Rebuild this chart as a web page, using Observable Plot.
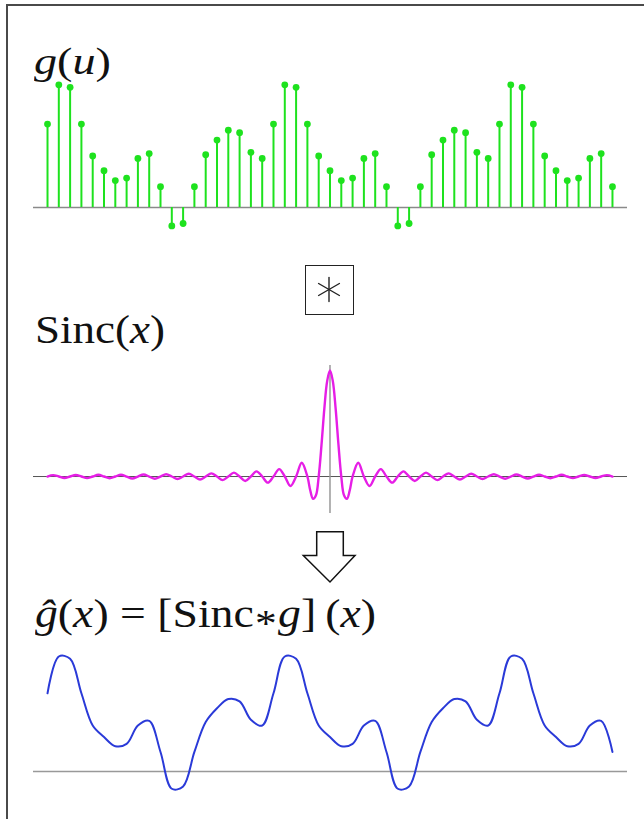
<!DOCTYPE html>
<html>
<head>
<meta charset="utf-8">
<script src="https://cdn.jsdelivr.net/npm/d3@7"></script>
<script src="https://cdn.jsdelivr.net/npm/@observablehq/plot@0.6"></script>
<style>
  body { margin: 0; background: #fff; }
  #wrap { position: relative; width: 644px; height: 819px; overflow: hidden; background: #fff; }
  .frame { position: absolute; left: 6px; top: 4px; width: 800px; height: 1000px;
           border-top: 2px solid #4a4a4a; border-left: 2px solid #4a4a4a; }
  .lbl { position: absolute; font-family: "Liberation Serif", serif; line-height: 1; white-space: nowrap;
         color: #111; transform-origin: 0 0; }
  .lbl i { font-style: italic; }
  .ast { position: relative; top: 0.24em; font-size: 0.95em; margin: 0 0.03em; }
  .box { position: absolute; left: 305px; top: 265px; width: 49px; height: 50px; box-sizing: border-box;
         border: 1.5px solid #222; }
  .arrow { position: absolute; left: 300px; top: 528px; }
</style>
</head>
<body>
<div id="wrap">
  <div class="frame"></div>
  <div class="lbl" id="l1" data-fs="38" data-base="74" data-left="34" data-w="77"><i>g</i>(<i>u</i>)</div>
  <div class="lbl" id="l2" data-fs="40" data-base="343" data-left="35" data-w="130">Sinc(<i>x</i>)</div>
  <div class="lbl" id="l3" data-fs="40" data-base="627" data-left="35" data-w="341"><i>ĝ</i>(<i>x</i>) = [Sinc<span class="ast">*</span><i>g</i>]&#8201;(<i>x</i>)</div>
  <div class="box">
    <svg width="46" height="47" viewBox="0 0 46 47">
      <g stroke="#222" stroke-width="1.4" stroke-linecap="round">
        <line x1="23" y1="11.5" x2="23" y2="35.5"/>
        <line x1="12.6" y1="17.5" x2="33.4" y2="29.5"/>
        <line x1="12.6" y1="29.5" x2="33.4" y2="17.5"/>
      </g>
    </svg>
  </div>
  <svg class="arrow" width="60" height="60" viewBox="0 0 60 60">
    <polygon points="16.7,3.7 43.3,3.7 43.3,27.5 55,27.5 30,54 3.3,27.5 16.7,27.5"
             fill="#fff" stroke="#111" stroke-width="1.5" stroke-linejoin="miter"/>
  </svg>
</div>
<script>
// ---- data ----
// g(u): 51 samples (index 0..50)
const gSamples = [
  0.68, 1.00, 0.98, 0.68, 0.42, 0.30, 0.22, 0.24, 0.40, 0.44,
  0.17, -0.15, -0.13, 0.17, 0.43, 0.55, 0.63, 0.61, 0.45, 0.40,
  0.68, 1.00, 0.98, 0.68, 0.42, 0.30, 0.22, 0.24, 0.40, 0.44,
  0.17, -0.15, -0.13, 0.17, 0.43, 0.55, 0.63, 0.61, 0.45, 0.40,
  0.68, 1.00, 0.98, 0.68, 0.42, 0.30, 0.22, 0.24, 0.40, 0.44,
  0.17
];
// Sinc(x) curve: positions (in sample units) and values
const sincT = [
  -25, -24.5, -24, -23.5, -23, -22.5, -22, -21.5, -21, -20.5,
  -20, -19.5, -19, -18.5, -18, -17.5, -17, -16.5, -16, -15.5,
  -15, -14.5, -14, -13.5, -13, -12.5, -12, -11.5, -11, -10.5,
  -10, -9.5, -9, -8.5, -8, -7.5, -7, -6.5, -6, -5.5,
  -5, -4.5, -4, -3.5, -3, -2.5, -2, -1.75, -1.5, -1.25,
  -1, -0.75, -0.5, -0.25, 0, 0.25, 0.5, 0.75, 1, 1.25,
  1.5, 1.75, 2, 2.5, 3, 3.5, 4, 4.5, 5, 5.5,
  6, 6.5, 7, 7.5, 8, 8.5, 9, 9.5, 10, 10.5,
  11, 11.5, 12, 12.5, 13, 13.5, 14, 14.5, 15, 15.5,
  16, 16.5, 17, 17.5, 18, 18.5, 19, 19.5, 20, 20.5,
  21, 21.5, 22, 22.5, 23, 23.5, 24, 24.5, 25
];
const sincV = [
  0, 0.013, 0, -0.014, 0, 0.014, 0, -0.015, 0, 0.016,
  0, -0.016, 0, 0.017, 0, -0.018, 0, 0.019, 0, -0.021,
  0, 0.022, 0, -0.024, 0, 0.026, 0, -0.028, 0, 0.030,
  0, -0.034, 0, 0.037, 0, -0.042, 0, 0.049, 0, -0.058,
  0, 0.070, 0, -0.090, 0, 0.130, 0, -0.130, -0.210, -0.180,
  0, 0.300, 0.640, 0.900, 1.000, 0.900, 0.640, 0.300, 0, -0.180,
  -0.210, -0.130, 0, 0.130, 0, -0.090, 0, 0.070, 0, -0.058,
  0, 0.049, 0, -0.042, 0, 0.037, 0, -0.034, 0, 0.030,
  0, -0.028, 0, 0.026, 0, -0.024, 0, 0.022, 0, -0.021,
  0, 0.019, 0, -0.018, 0, 0.017, 0, -0.016, 0, 0.016,
  0, -0.015, 0, 0.014, 0, -0.014, 0, 0.013, 0
];
// ĝ(x): reconstructed curve read at the sample positions
const gHat = [
  0.68, 1.00, 0.98, 0.68, 0.40, 0.30, 0.22, 0.24, 0.40, 0.44,
  0.17, -0.15, -0.13, 0.17, 0.43, 0.55, 0.63, 0.61, 0.45, 0.40,
  0.68, 1.00, 0.98, 0.68, 0.40, 0.30, 0.22, 0.24, 0.40, 0.44,
  0.17, -0.15, -0.13, 0.17, 0.43, 0.55, 0.63, 0.61, 0.45, 0.40,
  0.68, 1.00, 0.98, 0.68, 0.40, 0.30, 0.22, 0.24, 0.40, 0.44,
  0.17
];

const GREEN = "#1ee21e", MAGENTA = "#e61ee6", BLUE = "#2a3ad8";
const wrap = document.getElementById("wrap");

const stems = gSamples.map((v, i) => ({n: i, v}));
const sinc = sincT.map((t, i) => ({t, v: sincV[i]}));
const rec = gHat.map((v, i) => ({n: i, v}));

function place(svg, top) {
  svg.style.position = "absolute";
  svg.style.left = "0px";
  svg.style.top = top + "px";
  svg.style.background = "none";
  svg.style.overflow = "visible";
  wrap.appendChild(svg);
}

const common = {width: 644, marginLeft: 33, marginRight: 17, marginTop: 0, marginBottom: 0};

// Panel 1: g(u) stems
place(Plot.plot({
  ...common, height: 160,
  x: {domain: [-1.24, 51.33], axis: null},
  y: {domain: [-0.228, 1.076], axis: null},
  marks: [
    Plot.ruleY([0], {stroke: "#8a8a8a", strokeWidth: 1.5}),
    Plot.ruleX(stems, {x: "n", y1: 0, y2: "v", stroke: GREEN, strokeWidth: 2}),
    Plot.dot(stems, {x: "n", y: "v", r: 3.4, fill: GREEN, stroke: "none"})
  ]
}), 75);

// Panel 2: Sinc(x)
place(Plot.plot({
  ...common, height: 170,
  x: {domain: [-26.24, 26.33], axis: null},
  y: {domain: [-0.462, 1.1415], axis: null},
  marks: [
    Plot.ruleY([0], {stroke: "#555", strokeWidth: 1}),
    Plot.ruleX([0], {y1: -0.349, y2: 1.047, stroke: "#999", strokeWidth: 1.5}),
    Plot.line(sinc, {x: "t", y: "v", curve: "catmull-rom", stroke: MAGENTA, strokeWidth: 2.4})
  ]
}), 355);

// Panel 3: reconstructed ĝ(x)
place(Plot.plot({
  ...common, height: 180,
  x: {domain: [-1.24, 51.33], axis: null},
  y: {domain: [-0.339, 1.226], axis: null},
  marks: [
    Plot.ruleY([0], {stroke: "#999", strokeWidth: 1.5}),
    Plot.line(rec, {x: "n", y: "v", curve: "catmull-rom", stroke: BLUE, strokeWidth: 2})
  ]
}), 630);

// Label placement: baseline & width fitted
document.querySelectorAll(".lbl").forEach(el => {
  const fs = +el.dataset.fs;
  el.style.fontSize = fs + "px";
  el.style.left = el.dataset.left + "px";
  el.style.top = (+el.dataset.base - 0.8375 * fs) + "px";
  const w = el.getBoundingClientRect().width;
  el.style.transform = `scaleX(${(+el.dataset.w / w).toFixed(3)})`;
});
</script>
</body>
</html>
